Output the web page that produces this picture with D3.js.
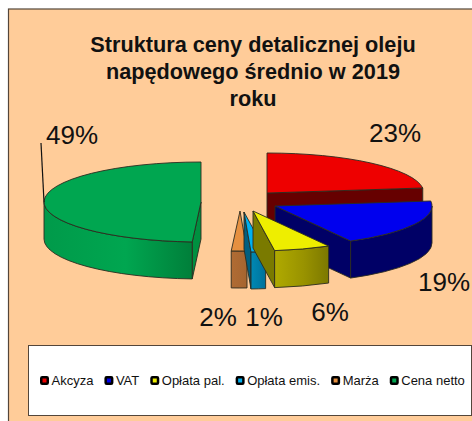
<!DOCTYPE html>
<html>
<head>
<meta charset="utf-8">
<script src="https://cdn.jsdelivr.net/npm/d3@7"></script>
<style>
  html, body { margin: 0; padding: 0; background: #fff; overflow: hidden; }
  text { font-family: "Liberation Sans", Arial, sans-serif; fill: #111; }
</style>
</head>
<body>
<script>
// Dane
var categories = ["Akcyza", "VAT", "Opłata pal.", "Opłata emis.", "Marża", "Cena netto"];
var shares = [23, 19, 5.8, 1.49, 1.6, 49.11];
var titleLines = ["Struktura ceny detalicznej oleju", "napędowego średnio w 2019", "roku"];

// Kolory: gora, bok, front (gradient)
var topColors = ["#ee0000", "#0000ee", "#eeee00", "#00b0f0", "#e69040", "#00a650"];
var sideColors = ["#660000", "#000066", "#7a7a00", "#005f80", "#a86a35", "#009040"];
var frontFrom = ["#660000", "#000066", "#b0aa00", "#0088b4", "#b06c34", "#009a4a"];
var frontMid = ["#660000", "#000066", "#989200", "#007ca6", "#aa6832", "#00a650"];
var frontTo = ["#660000", "#000066", "#7c7800", "#00709a", "#a56530", "#007f3a"];

// Wysuniecie wycinkow i polozenie etykiet (wzgledem srodka kola)
var pieCx = 238, pieCy = 204;
var explodeX = [29, 37, 15, 6, 2, -37];
var explodeY = [-11, 2, 7, 8, 7, -2];
var labelX = [157, 206, 92, 26, -20, -166];
var labelY = [-62, 87, 117, 122, 122, -60];
var drawOrder = [5, 0, 1, 4, 3, 2];

var width = 472, height = 421;
var rx = 157, ry = 40, depth = 37;

var svg = d3.select("body").append("svg").attr("width", width).attr("height", height);

// Tlo wykresu
svg.append("rect").attr("x", 8.5).attr("y", 9).attr("width", 480).attr("height", 430)
    .attr("fill", "#ffcc99").attr("stroke", "#54463a").attr("stroke-width", 1.2);

// Tytul
svg.append("g").selectAll("text").data(titleLines).join("text")
    .attr("x", 253).attr("y", function(d, i) { return 52 + i * 27; })
    .attr("text-anchor", "middle")
    .attr("font-size", 21.7).attr("font-weight", "bold")
    .text(function(d) { return d; });

var pie = d3.pie().sort(null)(shares);
var arc = d3.arc().innerRadius(0).outerRadius(rx);
var defs = svg.append("defs");

function px(a) { return rx * Math.sin(a); }
function py(a) { return -ry * Math.cos(a); }

// Zewnetrzna sciana: tylko czesc skierowana do widza (90-270 stopni)
function frontWall(a0, a1) {
    var s = Math.max(a0, Math.PI / 2), e = Math.min(a1, Math.PI * 1.5);
    if (s >= e) return null;
    return "M" + px(s) + "," + py(s) +
        "A" + rx + "," + ry + " 0 0 1 " + px(e) + "," + py(e) +
        "V" + (py(e) + depth) +
        "A" + rx + "," + ry + " 0 0 0 " + px(s) + "," + (py(s) + depth) + "Z";
}

function sideWall(a) {
    return "M0,0L" + px(a) + "," + py(a) + "v" + depth + "L0," + depth + "Z";
}

var slices = svg.append("g").selectAll("g").data(drawOrder).join("g")
    .attr("transform", function(i) {
        return "translate(" + (pieCx + explodeX[i]) + "," + (pieCy + explodeY[i]) + ")";
    })
    .attr("stroke", "#2b2b1f").attr("stroke-width", 0.9).attr("stroke-linejoin", "round");

slices.each(function(i) {
    var g = d3.select(this), d = pie[i];
    // Boczne sciany widoczne tylko gdy patrza w dol
    if (Math.sin(d.endAngle) > 0) {
        g.append("path").attr("d", sideWall(d.endAngle)).attr("fill", sideColors[i]);
    }
    if (Math.sin(d.startAngle) < 0) {
        g.append("path").attr("d", sideWall(d.startAngle)).attr("fill", sideColors[i]);
    }
    var wall = frontWall(d.startAngle, d.endAngle);
    if (wall) {
        var grad = defs.append("linearGradient").attr("id", "front" + i);
        grad.append("stop").attr("offset", "0%").attr("stop-color", frontFrom[i]);
        grad.append("stop").attr("offset", "55%").attr("stop-color", frontMid[i]);
        grad.append("stop").attr("offset", "100%").attr("stop-color", frontTo[i]);
        g.append("path").attr("d", wall).attr("fill", "url(#front" + i + ")");
    }
    g.append("path").attr("d", arc(d))
        .attr("transform", "scale(1," + (ry / rx) + ")")
        .attr("vector-effect", "non-scaling-stroke")
        .attr("fill", topColors[i]);
});

// Linia odniesienia dla 49%
svg.append("line")
    .attr("x1", 41).attr("y1", 143)
    .attr("x2", pieCx + explodeX[5] + px(-Math.PI / 2)).attr("y2", pieCy + explodeY[5])
    .attr("stroke", "#111").attr("stroke-width", 1.2);

// Etykiety procentowe
svg.append("g").selectAll("text").data(shares).join("text")
    .attr("x", function(d, i) { return pieCx + labelX[i]; })
    .attr("y", function(d, i) { return pieCy + labelY[i]; })
    .attr("text-anchor", "middle")
    .attr("font-size", 26)
    .text(function(d) { return d3.format(".0f")(d) + "%"; });

// Legenda
svg.append("rect").attr("x", 28.5).attr("y", 345.5).attr("width", 443).attr("height", 70)
    .attr("fill", "#fff").attr("stroke", "#54463a").attr("stroke-width", 1);

var legend = svg.append("g");
var legendX = 40;
categories.forEach(function(name, i) {
    legend.append("rect").attr("x", legendX + 1.25).attr("y", 377.25).attr("width", 6.5).attr("height", 6.5)
        .attr("rx", 1).attr("fill", topColors[i]).attr("stroke", "#000").attr("stroke-width", 2.5);
    var label = legend.append("text").attr("x", legendX + 11.5).attr("y", 385)
        .attr("font-size", 13).text(name);
    legendX += 11.5 + label.node().getComputedTextLength() + 11;
});
</script>
</body>
</html>
